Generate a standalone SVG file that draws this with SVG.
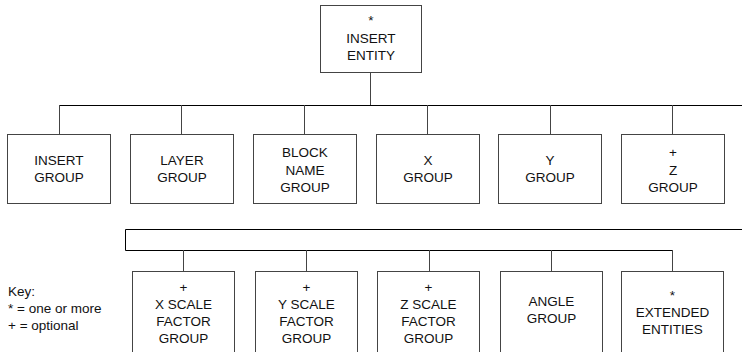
<svg xmlns="http://www.w3.org/2000/svg" width="742" height="352" viewBox="0 0 742 352">
<style>
.box{fill:#fff;stroke:#444;stroke-width:1}
.ln{fill:none;stroke:#000;stroke-width:1}
.vl{fill:none;stroke:#444;stroke-width:1}
text{font-family:"Liberation Sans",Arial,sans-serif;font-size:13.5px;fill:#111;text-anchor:middle}
.key{text-anchor:start}
</style>
<rect width="742" height="352" fill="#fff"/>
<g id="connectors">
<path class="vl" d="M370.5,72 V105"/>
<path class="ln" d="M59.5,105.5 H742"/>
<path class="vl" d="M59.5,105 V134 M181.5,105 V134 M304.5,105 V134 M427.5,105 V134 M550.5,105 V134 M672.5,105 V134"/>
<path class="ln" d="M742,229.5 H125.5 V250.5 H672.5"/>
<path class="vl" d="M183.5,250 V271 M306.5,250 V271 M429.5,250 V271 M551.5,250 V271 M672.5,250 V271"/>
</g>
<g id="insert-entity"><rect class="box" x="320.5" y="5.5" width="101" height="67"/><text x="371" y="25">*</text><text x="371" y="42.5">INSERT</text><text x="371" y="60">ENTITY</text></g>
<g id="insert-group"><rect class="box" x="7.5" y="134.5" width="103" height="69"/><text x="59" y="165">INSERT</text><text x="59" y="182">GROUP</text></g>
<g id="layer-group"><rect class="box" x="130.5" y="134.5" width="103" height="69"/><text x="182" y="165">LAYER</text><text x="182" y="182">GROUP</text></g>
<g id="block-name-group"><rect class="box" x="253.5" y="134.5" width="103" height="69"/><text x="305" y="157">BLOCK</text><text x="305" y="174.5">NAME</text><text x="305" y="192">GROUP</text></g>
<g id="x-group"><rect class="box" x="376.5" y="134.5" width="103" height="69"/><text x="428" y="165">X</text><text x="428" y="182">GROUP</text></g>
<g id="y-group"><rect class="box" x="498.5" y="134.5" width="103" height="69"/><text x="550" y="165">Y</text><text x="550" y="182">GROUP</text></g>
<g id="z-group"><rect class="box" x="621.5" y="134.5" width="103" height="69"/><text x="673" y="157">+</text><text x="673" y="174.5">Z</text><text x="673" y="192">GROUP</text></g>
<g id="x-scale"><rect class="box" x="132.5" y="271.5" width="102" height="90"/><text x="183.5" y="292">+</text><text x="183.5" y="309">X SCALE</text><text x="183.5" y="326">FACTOR</text><text x="183.5" y="343">GROUP</text></g>
<g id="y-scale"><rect class="box" x="255.5" y="271.5" width="102" height="90"/><text x="306.5" y="292">+</text><text x="306.5" y="309">Y SCALE</text><text x="306.5" y="326">FACTOR</text><text x="306.5" y="343">GROUP</text></g>
<g id="z-scale"><rect class="box" x="377.5" y="271.5" width="102" height="90"/><text x="428.5" y="292">+</text><text x="428.5" y="309">Z SCALE</text><text x="428.5" y="326">FACTOR</text><text x="428.5" y="343">GROUP</text></g>
<g id="angle-group"><rect class="box" x="500.5" y="271.5" width="102" height="90"/><text x="551.5" y="306">ANGLE</text><text x="551.5" y="323">GROUP</text></g>
<g id="extended-entities"><rect class="box" x="621.5" y="271.5" width="102" height="90"/><text x="672.5" y="300">*</text><text x="672.5" y="317">EXTENDED</text><text x="672.5" y="334">ENTITIES</text></g>
<g id="key"><text class="key" x="8" y="296">Key:</text><text class="key" x="8" y="313">* = one or more</text><text class="key" x="8" y="330">+ = optional</text></g>
</svg>
